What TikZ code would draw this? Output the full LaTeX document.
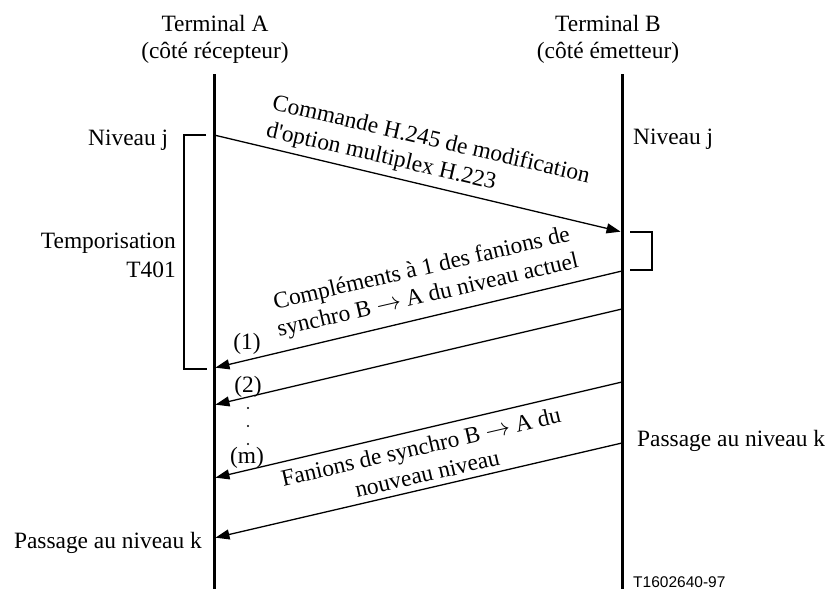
\documentclass[tikz,border=0pt]{standalone}
\usepackage{fontspec}
\setmainfont{Liberation Serif}
\setsansfont{Liberation Sans}
\usetikzlibrary{arrows.meta}
\begin{document}
\begin{tikzpicture}[x=1pt,y=-1pt,
  txt/.style={font=\fontsize{23.4}{27.5}\selectfont, inner sep=0pt},
  life/.style={line width=3pt},
  msg/.style={line width=1.3pt, -{Triangle[length=14pt,width=10pt]}, shorten >=1.5pt},
  brk/.style={line width=1.3pt},
  dotmark/.style={circle, fill=black, inner sep=0pt, minimum size=2.4pt}]
\useasboundingbox (0,0) rectangle (833,589);
\fill[white] (0,0) rectangle (833,589);
% lifelines
\coordinate (Atop) at (214,74); \coordinate (Abot) at (214,589);
\coordinate (Btop) at (622,74); \coordinate (Bbot) at (622,589);
\draw[life] (Atop) -- (Abot);
\draw[life] (Btop) -- (Bbot);
% headers
\node[txt, align=center] (TA) at (215,39.5) {Terminal A\\(côté récepteur)};
\node[txt, align=center] (TB) at (608,39.5) {Terminal B\\(côté émetteur)};
% side labels
\node[txt, anchor=base west] (NjA) at (88,145.5) {Niveau j};
\node[txt, anchor=base west] (NjB) at (633,144.5) {Niveau j};
\node[txt, anchor=base east] (Tempo) at (176,248.5) {Temporisation};
\node[txt, anchor=base east] (T401) at (176,277) {T401};
\node[txt, anchor=base east] (PkA) at (202,548.5) {Passage au niveau k};
\node[txt, anchor=base west] (PkB) at (637,446.5) {Passage au niveau k};
% message end points
\coordinate (a1) at (214,135); \coordinate (b1) at (622,232);
\coordinate (b2) at (622,271); \coordinate (a2) at (214,368);
\coordinate (b3) at (622,309); \coordinate (a3) at (214,405);
\coordinate (b4) at (622,382); \coordinate (a4) at (214,478);
\coordinate (b5) at (622,443); \coordinate (a5) at (214,538);
\draw[msg] (a1) -- (b1);
\draw[msg] (b2) -- (a2);
\draw[msg] (b3) -- (a3);
\draw[msg] (b4) -- (a4);
\draw[msg] (b5) -- (a5);
% brackets
\coordinate (lb1) at (206,135); \coordinate (lb2) at (207,369);
\draw[brk] (lb1) -- ++(-22,0) |- (lb2);
\coordinate (rb1) at (630,232); \coordinate (rb2) at (630,270);
\draw[brk] (rb1) -- ++(22,0) |- (rb2);
% message labels
\node[txt, align=left, rotate=-13] (L1) at (428,154) {Commande H.245 de modification\\d\textquotesingle option multiplex H.223};
\node[txt, align=center, rotate=13] (L2) at (425,283) {Compléments à 1 des fanions de\\synchro B $\rightarrow$ A du niveau actuel};
\node[txt, align=center, rotate=13] (L3) at (424,460) {Fanions de synchro B $\rightarrow$ A du\\nouveau niveau};
% numbering
\node[txt, anchor=base] (n1) at (247,349) {(1)};
\node[txt, anchor=base] (n2) at (248,392) {(2)};
\node[dotmark] (d1) at (248,408) {};
\node[dotmark] (d2) at (248,426) {};
\node[dotmark] (d3) at (248,444) {};
\node[txt, anchor=base] (nm) at (247,463) {(m)};
% figure id
\node[font=\sffamily\fontsize{15.5}{18}\selectfont, inner sep=0pt, anchor=base west] (fid) at (633,587) {T1602640-97};
\end{tikzpicture}
\end{document}
